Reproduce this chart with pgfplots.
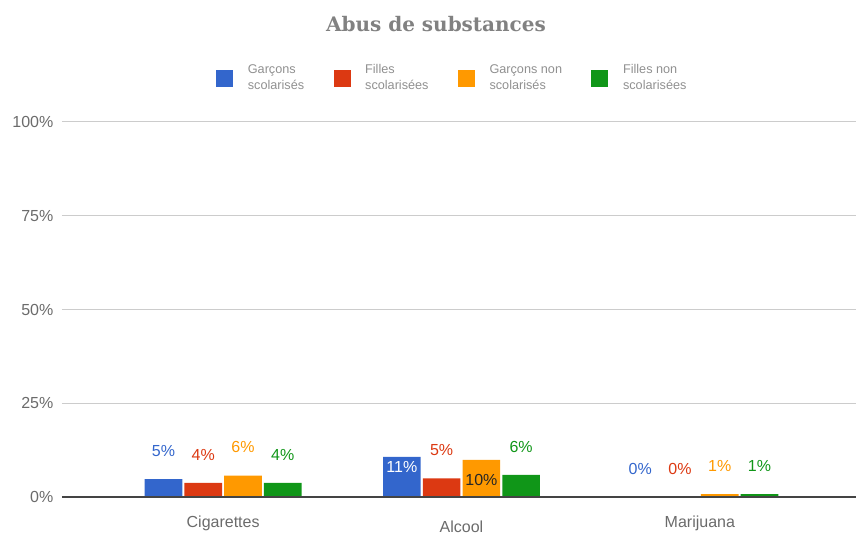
\documentclass[border=0pt]{standalone}
\usepackage{fontspec}
\setmainfont{Liberation Sans}
\newfontfamily\titlefont{DejaVu Serif}
\usepackage{pgfplots}
\pgfplotsset{compat=1.18}
\definecolor{cBlue}{HTML}{3366CC}
\definecolor{cRed}{HTML}{DC3912}
\definecolor{cOrange}{HTML}{FF9900}
\definecolor{cGreen}{HTML}{109618}
\definecolor{cText}{HTML}{6B6B6B}
\definecolor{cGrid}{HTML}{CCCCCC}
\definecolor{cBase}{HTML}{444444}
\begin{document}
\begin{tikzpicture}
\path[use as bounding box] (-46.5pt,-29.25pt) rectangle (595.5pt,372.75pt);
\begin{axis}[
  at={(0,0)}, anchor=south west,
  scale only axis, width=595.5pt, height=281.25pt,
  xmin=-0.676, xmax=2.655, ymin=0, ymax=100,
  clip=false,
  axis line style={draw=none},
  xtick={0,1,2},
  xticklabels={Cigarettes,\raisebox{-4pt}[\height][\depth]{Alcool},Marijuana},
  xtick style={draw=none},
  ytick={0,25,50,75,100},
  ytick style={draw=none},
  yticklabel={\pgfmathprintnumber{\tick}\%},
  /pgf/number format/assume math mode=true,
  ticklabel style={font=\fontsize{12}{14}\selectfont, text=cText},
  yticklabel style={xshift=-3pt},
  xticklabel style={yshift=-10.5pt},
  ymajorgrids,
  grid style={draw=cGrid, line width=0.75pt},
  title={\titlefont\bfseries Abus de substances},
  title style={at={(0.471,1.24)}, anchor=center, font=\fontsize{15}{18}\selectfont, text=cText!85},
  legend columns=4,
  legend cell align=left,
  legend style={draw=none, fill=none, at={(0.492,1.117)}, anchor=center,
    font=\fontsize{9.5}{12}\selectfont, text=cText!75,
    cells={align=left},
    /tikz/every even column/.append style={column sep=20pt},
    /tikz/every odd column/.append style={column sep=9pt}},
  legend image code/.code={\draw[#1, draw=none] (0pt,-6.4pt) rectangle (12.75pt,6.4pt);},
  point meta=explicit symbolic,
  every node near coord/.append style={font=\fontsize{12}{14}\selectfont, anchor=base, yshift=17pt, inner sep=0pt},
]
\addplot[ybar, bar width=28.25pt, bar shift=-44.7pt, fill=cBlue, draw=none,
  nodes near coords, every node near coord/.append style={text=cBlue, xshift=-44.7pt}]
  coordinates {(0,4.8) [5\%] (1,10.7) [] (2,0) [0\%]};
\addplot[ybar, bar width=28.25pt, bar shift=-14.9pt, fill=cRed, draw=none,
  nodes near coords, every node near coord/.append style={text=cRed, xshift=-14.9pt}]
  coordinates {(0,3.8) [4\%] (1,5.0) [5\%] (2,0) [0\%]};
\addplot[ybar, bar width=28.25pt, bar shift=14.9pt, fill=cOrange, draw=none,
  nodes near coords, every node near coord/.append style={text=cOrange, xshift=14.9pt}]
  coordinates {(0,5.7) [6\%] (1,9.9) [] (2,0.8) [1\%]};
\addplot[ybar, bar width=28.25pt, bar shift=44.7pt, fill=cGreen, draw=none,
  nodes near coords, every node near coord/.append style={text=cGreen, xshift=44.7pt}]
  coordinates {(0,3.8) [4\%] (1,5.9) [6\%] (2,0.8) [1\%]};
% labels inside bars
\addplot[ybar, forget plot, bar width=28.25pt, bar shift=-44.7pt, fill=none, draw=none,
  nodes near coords, every node near coord/.append style={text=white, xshift=-44.7pt, yshift=-29pt}]
  coordinates {(1,10.7) [11\%]};
\addplot[ybar, forget plot, bar width=28.25pt, bar shift=14.9pt, fill=none, draw=none,
  nodes near coords, every node near coord/.append style={text=black!85, xshift=14.9pt, yshift=-36pt}]
  coordinates {(1,9.9) [10\%]};
\legend{{Garçons\\scolarisés},{Filles\\scolarisées},{Garçons non\\scolarisés},{Filles non\\scolarisées}}
\draw[cBase, line width=1.4pt] (rel axis cs:0,0) -- (rel axis cs:1,0);
\end{axis}
\end{tikzpicture}
\end{document}
